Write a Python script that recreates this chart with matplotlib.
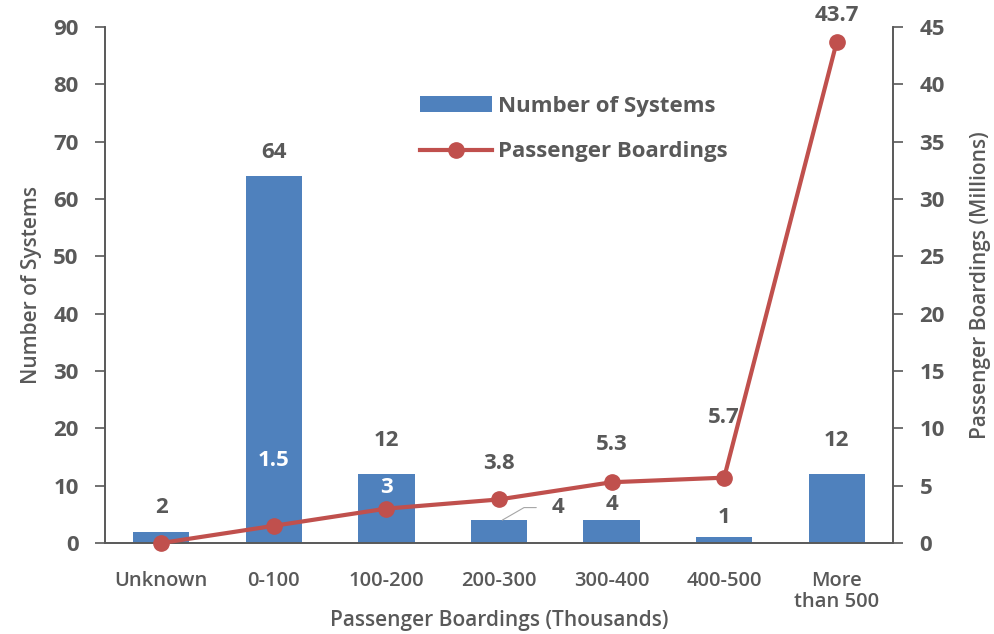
import matplotlib.pyplot as plt
import numpy as np

# chart data
categories = ['Unknown', '0-100', '100-200', '200-300', '300-400', '400-500', 'More\nthan 500']
systems = [2, 64, 12, 4, 4, 1, 12]
boardings = [0, 1.5, 3, 3.8, 5.3, 5.7, 43.7]

gray = '#595959'
blue = '#4F81BD'
red = '#C0504D'
plt.rcParams['font.family'] = ['Open Sans', 'DejaVu Sans']

fig = plt.figure(figsize=(9.94, 6.34), dpi=100)
ax = fig.add_axes([0.1056, 0.1435, 0.7928, 0.8139])
ax2 = ax.twinx()

x = np.arange(len(categories))
ax.bar(x, systems, width=0.5, color=blue, zorder=2, label='Number of Systems')
ax2.plot(x, boardings, color=red, lw=3, marker='o', ms=11, zorder=3,
         label='Passenger Boardings', clip_on=False)

ax.set_xlim(-0.5, len(categories) - 0.5)
ax.set_ylim(0, 90)
ax2.set_ylim(0, 45)
ax.set_yticks(range(0, 91, 10))
ax2.set_yticks(range(0, 46, 5))

for a in (ax, ax2):
    a.spines['top'].set_visible(False)
    for s in a.spines.values():
        s.set_color(gray)
        s.set_linewidth(1.2)
    a.tick_params(axis='y', colors=gray, labelsize=16, length=7, width=1.2, pad=12)
    for lbl in a.get_yticklabels():
        lbl.set_fontweight('bold')
ax.tick_params(axis='x', length=0, colors=gray, labelsize=14.5, pad=20)
ax.set_xticks(x)
ax.set_xticklabels(categories, linespacing=1.1, fontweight='semibold')
ax2.tick_params(axis='x', length=0)

ax.set_ylabel('Number of Systems', color=gray, fontsize=15, fontweight='semibold', labelpad=8)
ax2.set_ylabel('Passenger Boardings (Millions)', color=gray, fontsize=15,
               fontweight='semibold', labelpad=18)
ax.set_xlabel('Passenger Boardings (Thousands)', color=gray, fontsize=15,
              fontweight='semibold', labelpad=-2)

lab = dict(ha='center', va='center', fontsize=16, fontweight='bold', color=gray,
           textcoords='offset points')
# bar labels (vertical offsets in points)
bar_offs = [17, 17, 24, None, 11, 14, 24]
for i, v in enumerate(systems):
    if bar_offs[i] is None:
        continue
    ax.annotate(str(v), (x[i], v), xytext=(0, bar_offs[i]), **lab)
ax.annotate(str(systems[3]), (x[3] + 0.03, systems[3]), xytext=(40, 9),
            arrowprops=dict(arrowstyle='-', color='#A6A6A6', lw=0.8,
                            connectionstyle='angle,angleA=0,angleB=30,rad=0',
                            shrinkA=9, shrinkB=0),
            **lab)

# line labels
line_offs = [None, 47, 15, 26, 27, 43, 19]
for i, v in enumerate(boardings):
    if line_offs[i] is None:
        continue
    kw = dict(lab)
    if i in (1, 2):
        kw['color'] = 'white'
    ax2.annotate(f'{v:g}', (x[i], v), xytext=(0, line_offs[i]), **kw)

h1, l1 = ax.get_legend_handles_labels()
h2, l2 = ax2.get_legend_handles_labels()
leg = ax2.legend(h1 + h2, l1 + l2, loc='upper left', bbox_to_anchor=(0.375, 0.905),
                 frameon=False, fontsize=16, handlelength=3.2, labelspacing=1.1,
                 handletextpad=0.3)
for t in leg.get_texts():
    t.set_color(gray)
    t.set_fontweight('bold')

fig.savefig('out.png', dpi=100)
